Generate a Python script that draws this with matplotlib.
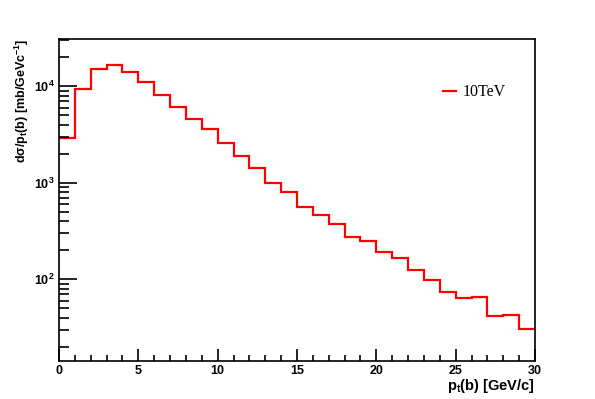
import matplotlib
matplotlib.use("Agg")
import matplotlib.pyplot as plt
import numpy as np
from matplotlib.ticker import MultipleLocator, LogLocator, FixedLocator, NullFormatter

plt.rcParams['font.family'] = ['Liberation Sans', 'DejaVu Sans']
plt.rcParams['mathtext.fontset'] = 'custom'
plt.rcParams['mathtext.rm'] = 'Liberation Sans:bold'
plt.rcParams['mathtext.it'] = 'Liberation Sans:bold'
plt.rcParams['mathtext.bf'] = 'Liberation Sans:bold'

# pt(b) bins, 1 GeV/c wide
edges = np.arange(0, 31, 1)
xsec = [2930, 9460, 15000, 16500, 14200, 11000, 8200, 6050, 4620, 3580,
        2560, 1875, 1410, 1007, 807, 564, 466, 375, 277, 252,
        192, 167, 126, 98.4, 73.8, 64, 66, 41.7, 43, 30.5]
series_label = '10TeV'

fig = plt.figure(figsize=(5.95, 3.99), dpi=100)
ax = fig.add_axes([59/595, 38/399, 476/595, 322/399])

ax.stairs(xsec, edges, color='red', lw=1.6, baseline=None, label=series_label)

ax.set_yscale('log')
ax.set_xlim(0, 30)
ax.set_ylim(14.2, 31000)

ax.xaxis.set_major_locator(MultipleLocator(5))
ax.xaxis.set_minor_locator(MultipleLocator(1))
ax.yaxis.set_major_locator(FixedLocator([1e2, 1e3, 1e4]))
ax.yaxis.set_minor_locator(LogLocator(base=10, subs=np.arange(2, 10)))
ax.yaxis.set_minor_formatter(NullFormatter())
ax.set_yticklabels([r'$10^{2}$', r'$10^{3}$', r'$10^{4}$'])

ax.tick_params(which='both', direction='in', top=False, right=False,
               labelsize=9, width=1.2)
ax.tick_params(axis='y', which='major', length=13, pad=3)
ax.tick_params(axis='y', which='minor', length=7)
ax.tick_params(axis='x', which='major', length=9, pad=3)
ax.tick_params(axis='x', which='minor', length=4.5)
for lab in ax.get_xticklabels():
    lab.set_fontweight('bold')

for s in ax.spines.values():
    s.set_linewidth(1.2)

ax.set_xlabel(r'p$_t$(b) [GeV/c]', loc='right', fontsize=10.5,
              fontweight='bold', labelpad=0)
ax.set_ylabel(r'd$\sigma$/p$_t$(b) [mb/GeVc$^{-1}$]', loc='top', fontsize=9,
              fontweight='bold', labelpad=2)

ax.legend(loc='center left', bbox_to_anchor=(0.807, 0.835), frameon=False,
          handlelength=0.8, handletextpad=0.45, borderpad=0, borderaxespad=0,
          prop={'family': 'Liberation Serif', 'size': 11.5})

fig.savefig('out.png', dpi=100)
